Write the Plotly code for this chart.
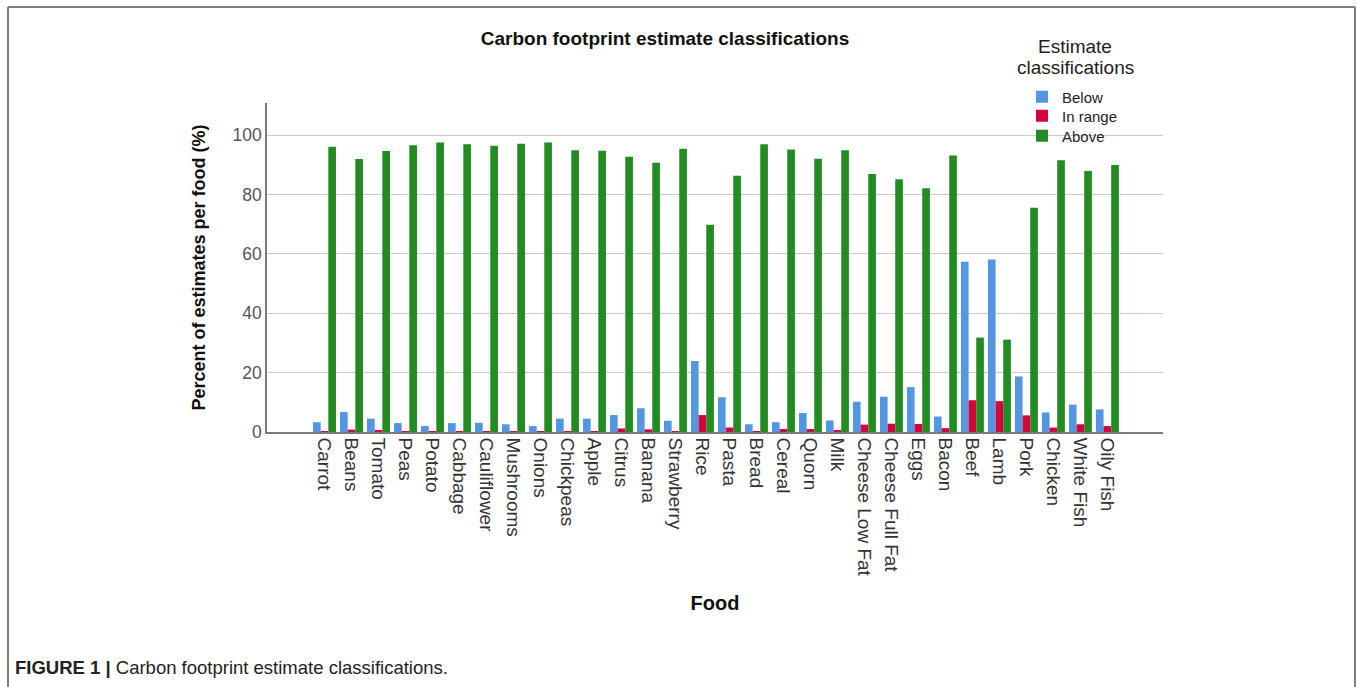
import plotly.graph_objects as go

foods = ["Carrot", "Beans", "Tomato", "Peas", "Potato", "Cabbage", "Cauliflower",
         "Mushrooms", "Onions", "Chickpeas", "Apple", "Citrus", "Banana", "Strawberry",
         "Rice", "Pasta", "Bread", "Cereal", "Quorn", "Milk", "Cheese Low Fat",
         "Cheese Full Fat", "Eggs", "Bacon", "Beef", "Lamb", "Pork", "Chicken",
         "White Fish", "Oily Fish"]

below = [3.3, 6.7, 4.5, 3.0, 2.0, 3.0, 3.1, 2.6, 2.0, 4.5, 4.5, 5.7, 8.0, 3.8,
         23.9, 11.7, 2.6, 3.3, 6.4, 3.9, 10.2, 11.9, 15.1, 5.2, 57.3, 58.1, 18.7,
         6.6, 9.2, 7.6]
in_range = [0.2, 0.8, 0.4, 0.1, 0.1, 0.1, 0.1, 0.1, 0.1, 0.1, 0.1, 1.2, 0.9, 0.3,
            5.7, 1.5, 0.2, 1.0, 1.0, 0.6, 2.5, 2.8, 2.7, 1.3, 10.7, 10.4, 5.6,
            1.5, 2.6, 2.0]
above = [96.1, 91.9, 94.6, 96.6, 97.5, 96.9, 96.4, 97.1, 97.5, 94.9, 94.7, 92.7,
         90.7, 95.4, 69.8, 86.3, 96.9, 95.1, 92.0, 94.9, 86.9, 85.1, 82.1, 93.1,
         31.8, 31.1, 75.5, 91.5, 87.9, 89.9]
y_ticks = [0, 20, 40, 60, 80, 100]

series_names = ["Below", "In range", "Above"]
colors = ["#5596e3", "#d2063c", "#228b22"]

W, H = 1357, 687
L, R, T, B = 267, 1163, 103, 432
pw, ph = R - L, B - T


def px_x(v):
    return (v - L) / pw


def px_y(v):
    return (B - v) / ph


font_family = "Liberation Sans, Arial, sans-serif"
legend_ids = ["legend", "legend2", "legend3"]
legend_rows = [97, 116, 136]

xs = list(range(len(foods)))
fig = go.Figure()
for name, vals, col, lid in zip(series_names, [below, in_range, above], colors, legend_ids):
    fig.add_trace(go.Bar(x=xs, y=vals, name=name, legend=lid,
                         marker=dict(color=col, line=dict(width=0))))

legend_layout = {}
for lid, row in zip(legend_ids, legend_rows):
    legend_layout[lid] = dict(x=px_x(1022), xanchor="left", y=px_y(row), yanchor="middle",
                              font=dict(size=15, color="#222222"),
                              bgcolor="rgba(0,0,0,0)", itemwidth=30)

fig.update_layout(
    width=W, height=H,
    margin=dict(l=L, r=W - R, t=T, b=H - B, pad=0),
    paper_bgcolor="white", plot_bgcolor="white",
    barmode="group", bargap=0.15, bargroupgap=0,
    font=dict(family=font_family, color="#333333"),
    title=dict(text="<b>Carbon footprint estimate classifications</b>",
               x=665 / W, xanchor="center", y=1 - 38 / H, yanchor="middle",
               font=dict(size=19, color="#111111")),
    showlegend=True,
    xaxis=dict(range=[-2.13, 31.06], tickmode="array", tickvals=xs, ticktext=foods,
               tickangle=90, tickfont=dict(size=19, color="#333333"),
               showline=True, linecolor="#7a7a7a", linewidth=1.5, showgrid=False,
               ticks="", zeroline=False,
               title=dict(text="<b>Food</b>", font=dict(size=20, color="#111111"), standoff=20)),
    yaxis=dict(range=[0, 110.8], tickmode="array", tickvals=y_ticks,
               tickfont=dict(size=17.5, color="#555555"),
               showline=True, linecolor="#7a7a7a", linewidth=1.5,
               showgrid=True, gridcolor="#cccccc", gridwidth=1, zeroline=False,
               ticks="", ticklen=0,
               title=dict(text="<b>Percent of estimates per food (%)</b>",
                          font=dict(size=18, color="#111111"), standoff=22)),
    **legend_layout,
)

# legend title
for txt, row in [("Estimate", 47), ("classifications", 67)]:
    fig.add_annotation(text=txt, xref="paper", yref="paper",
                       x=px_x(1075), y=px_y(row), xanchor="center", yanchor="middle",
                       showarrow=False, font=dict(size=19, color="#222222"))

# caption
fig.add_annotation(text="<b>FIGURE 1 |</b> Carbon footprint estimate classifications.",
                   xref="paper", yref="paper", x=px_x(13), y=px_y(667),
                   xanchor="left", yanchor="middle", showarrow=False,
                   font=dict(size=18.5, color="#222222"))

# outer frame
frame = dict(type="line", xref="paper", yref="paper", line=dict(color="#808080", width=2))
fig.add_shape(**frame, x0=px_x(8), x1=px_x(1355), y0=px_y(7), y1=px_y(7))
fig.add_shape(**frame, x0=px_x(8), x1=px_x(8), y0=px_y(7), y1=px_y(700))
fig.add_shape(**frame, x0=px_x(1355), x1=px_x(1355), y0=px_y(7), y1=px_y(700))

fig.write_html("out.html", config={"displayModeBar": False},
               post_script="document.body.style.margin='0px';")
